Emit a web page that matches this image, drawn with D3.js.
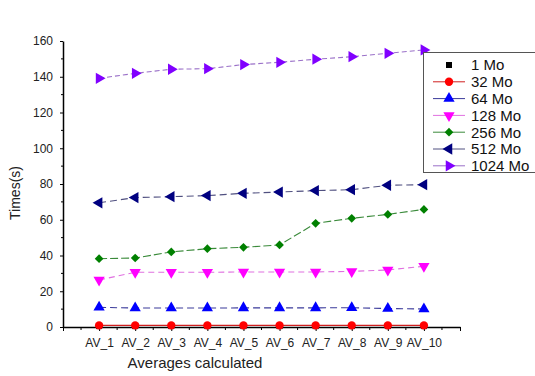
<!DOCTYPE html>
<html>
<head>
<meta charset="utf-8">
<script src="https://cdn.jsdelivr.net/npm/d3@7"></script>
<style>
  body { margin: 0; background: #fff; }
  svg { font-family: "Liberation Sans", Arial, sans-serif; }
</style>
</head>
<body>
<div id="chart"></div>
<script>
// values
var categories = ["AV_1", "AV_2", "AV_3", "AV_4", "AV_5", "AV_6", "AV_7", "AV_8", "AV_9", "AV_10"];
var mo1    = [0.5, 0.5, 0.5, 0.5, 0.5, 0.5, 0.5, 0.5, 0.5, 0.5];
var mo32   = [0.9, 0.9, 0.9, 0.9, 0.9, 0.9, 0.9, 0.9, 0.9, 0.9];
var mo64   = [11.0, 10.6, 10.6, 10.6, 10.7, 10.7, 10.7, 10.8, 10.3, 10.1];
var mo128  = [26.3, 30.6, 30.6, 30.6, 30.8, 30.8, 30.8, 31.1, 31.9, 34.0];
var mo256  = [38.2, 38.6, 42.0, 43.8, 44.6, 45.9, 58.0, 60.8, 63.0, 65.8];
var mo512  = [69.5, 72.4, 72.9, 73.5, 74.8, 75.5, 76.3, 76.8, 79.3, 79.6];
var mo1024 = [139.1, 141.9, 144.2, 144.5, 146.8, 148.1, 149.8, 151.2, 153.1, 155.0];
var yTicks = [0, 20, 40, 60, 80, 100, 120, 140, 160];

var series = [
  { name: "1 Mo",    values: mo1,    color: "#000000", line: null,      shape: d3.symbolSquare,   size: 36, rot: 0 },
  { name: "32 Mo",   values: mo32,   color: "#ff0000", line: "#d02020", shape: d3.symbolCircle,   size: 55, rot: 0, dash: null },
  { name: "64 Mo",   values: mo64,   color: "#0000ff", line: "#3a3a9a", shape: d3.symbolTriangle, size: 55, rot: 0, dash: "7,4" },
  { name: "128 Mo",  values: mo128,  color: "#ff00ff", line: "#e070e0", shape: d3.symbolTriangle, size: 55, rot: 180, dash: "6,4" },
  { name: "256 Mo",  values: mo256,  color: "#008000", line: "#3a8a3a", shape: d3.symbolSquare,   size: 38, rot: 45, dash: "8,3" },
  { name: "512 Mo",  values: mo512,  color: "#000080", line: "#505080", shape: d3.symbolTriangle, size: 55, rot: -90, dash: "7,4" },
  { name: "1024 Mo", values: mo1024, color: "#8000ff", line: "#9a70c8", shape: d3.symbolTriangle, size: 55, rot: 90, dash: "5,3" }
];

var width = 535, height = 376;
var svg = d3.select("#chart").append("svg")
    .attr("width", width)
    .attr("height", height);

var x = d3.scaleLinear().domain([0, 11]).range([63, 460]);
var y = d3.scaleLinear().domain([0, 160]).range([327, 41]);

// x axis: major ticks at each average, minor ones in between
var xAxis = svg.append("g").attr("transform", "translate(0," + y(0) + ")");
xAxis.call(d3.axisBottom(x)
    .tickValues(d3.range(0, 12))
    .tickSize(4)
    .tickSizeOuter(0)
    .tickFormat(function (d) { return categories[d - 1] || ""; }));
xAxis.selectAll(".minor")
  .data(d3.range(0.5, 11, 1))
  .enter().append("line")
    .attr("class", "minor")
    .attr("x1", function (d) { return x(d); })
    .attr("x2", function (d) { return x(d); })
    .attr("y1", 0).attr("y2", 3)
    .attr("stroke", "#000");

var yAxis = svg.append("g").attr("transform", "translate(" + x(0) + ",0)");
yAxis.call(d3.axisLeft(y)
    .tickValues(yTicks)
    .tickSize(3)
    .tickPadding(7)
    .tickSizeOuter(0));
yAxis.selectAll(".minor")
  .data(d3.range(10, 160, 20))
  .enter().append("line")
    .attr("class", "minor")
    .attr("x1", -2).attr("x2", 0)
    .attr("y1", function (d) { return y(d); })
    .attr("y2", function (d) { return y(d); })
    .attr("stroke", "#000");

svg.selectAll(".domain").attr("stroke", "#000").attr("stroke-width", 1.5);
svg.selectAll(".tick text").attr("font-size", 12).attr("fill", "#222")
   .attr("font-family", "Liberation Sans, Arial, sans-serif");
xAxis.selectAll(".tick text").attr("dy", "1.1em");

// axis titles
svg.append("text")
    .attr("x", 195).attr("y", 368)
    .attr("text-anchor", "middle")
    .attr("font-size", 15)
    .attr("fill", "#222")
    .text("Averages calculated");
svg.append("text")
    .attr("transform", "translate(20,193) rotate(-90)")
    .attr("text-anchor", "middle")
    .attr("font-size", 14)
    .attr("fill", "#222")
    .text("Times(s)");

var line = d3.line()
    .x(function (d, i) { return x(i + 1); })
    .y(function (d) { return y(d); });

function marker(s) {
  return d3.symbol().type(s.shape).size(s.size)();
}

// lines
series.forEach(function (s) {
  if (!s.line) return;
  svg.append("path")
      .datum(s.values)
      .attr("d", line)
      .attr("fill", "none")
      .attr("stroke", s.line)
      .attr("stroke-width", 1.1)
      .attr("stroke-dasharray", s.dash);
});

// markers
series.forEach(function (s) {
  svg.append("g").selectAll("path")
    .data(s.values)
    .enter().append("path")
      .attr("d", marker(s))
      .attr("fill", s.color)
      .attr("transform", function (d, i) {
        return "translate(" + x(i + 1) + "," + y(d) + ") rotate(" + s.rot + ")";
      });
});

// legend
var legend = svg.append("g");
legend.append("rect")
    .attr("x", 423.5).attr("y", 52.5)
    .attr("width", 120).attr("height", 120)
    .attr("fill", "#fff")
    .attr("stroke", "#555")
    .attr("stroke-width", 1);

var rows = legend.selectAll(".row")
  .data(series)
  .enter().append("g")
    .attr("class", "row")
    .attr("transform", function (d, i) { return "translate(0," + (65 + i * 16.8) + ")"; });

rows.filter(function (d) { return d.line; })
  .append("line")
    .attr("x1", 433).attr("x2", 465)
    .attr("y1", 0).attr("y2", 0)
    .attr("stroke", function (d) { return d.line; })
    .attr("stroke-width", 1);
rows.append("path")
    .attr("d", function (d) { return marker(d); })
    .attr("fill", function (d) { return d.color; })
    .attr("transform", function (d) { return "translate(449,0) rotate(" + d.rot + ")"; });
rows.append("text")
    .attr("x", 471).attr("y", 0)
    .attr("dy", "0.36em")
    .attr("font-size", 15)
    .attr("fill", "#111")
    .text(function (d) { return d.name; });
</script>
</body>
</html>
